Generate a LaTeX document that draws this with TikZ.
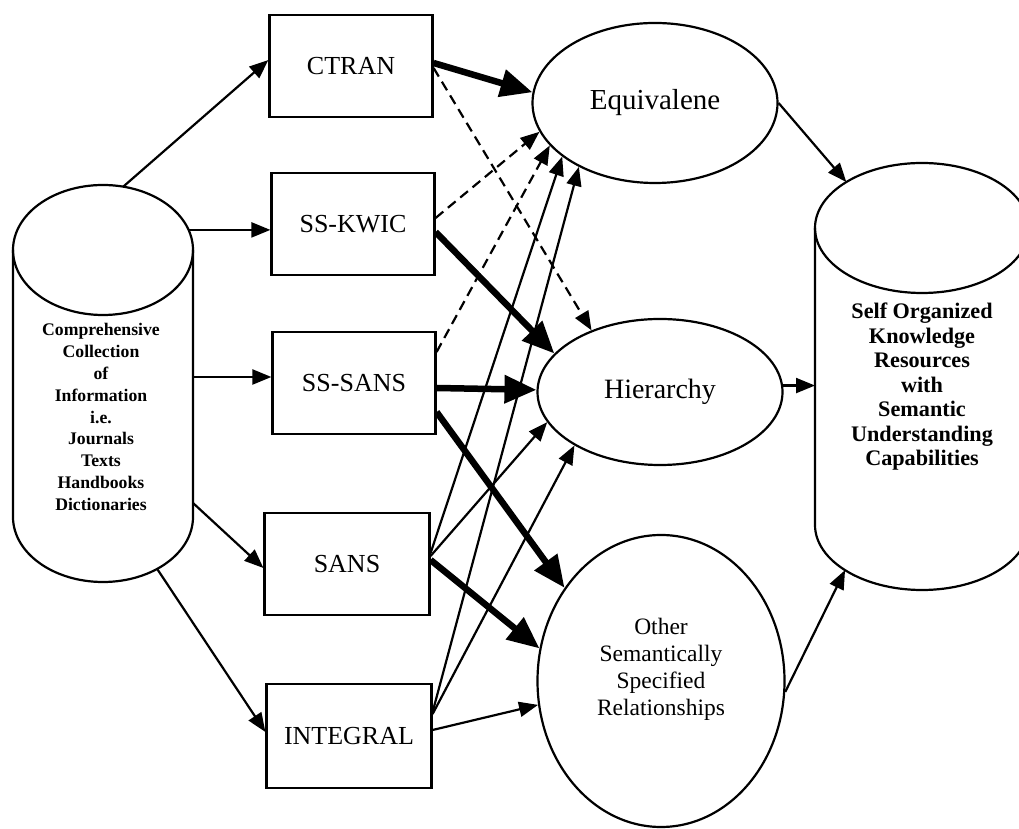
\documentclass[tikz,border=0pt]{standalone}
\usepackage{fontspec}
\setmainfont{Liberation Serif}
\usetikzlibrary{shapes.geometric,arrows.meta,calc}
\begin{document}
\begin{tikzpicture}[x=1pt,y=1pt,
  shapeline/.style={line width=2.2pt},
  boxnode/.style={draw,shapeline,minimum width=163pt,minimum height=102pt,inner sep=0pt,font=\fontsize{26}{30}\selectfont},
  ellnode/.style={draw,ellipse,shapeline,inner sep=0pt},
  thinarrow/.style={line width=2.2pt,-{Triangle[length=19pt,width=15pt]}},
  thickarrow/.style={line width=6.5pt,-{Triangle[length=32pt,width=27pt]}},
  dasharrow/.style={line width=2.2pt,dash pattern=on 10pt off 6pt,-{Triangle[length=19pt,width=15pt]}},
]
\useasboundingbox (0,0) rectangle (1019,829);

% boxes
\node[boxnode] (ctran) at (351,763) {CTRAN};
\node[boxnode] (sskwic) at (353,605) {SS-KWIC};
\node[boxnode] (sssans) at (354,446) {SS-SANS};
\node[boxnode,minimum width=165pt] (sans) at (347,265) {SANS};
\node[boxnode,minimum width=165pt,minimum height=104pt] (integral) at (349,93) {INTEGRAL};

% ellipses
\node[ellnode,minimum width=245pt,minimum height=160pt,font=\fontsize{29}{32}\selectfont] (equiv) at (655,726) {Equivalene};
\node[ellnode,minimum width=245pt,minimum height=146pt,font=\fontsize{28}{32}\selectfont] (hier) at (660,437) {Hierarchy};
\node[ellnode,minimum width=247pt,minimum height=292pt] (other) at (661,148) {};
\node[align=center,font=\fontsize{23.5}{27}\selectfont] (othertext) at ([yshift=12pt]other.center) {Other\\Semantically\\Specified\\Relationships};

% left cylinder
\draw[shapeline] (13,579) -- (13,312) arc[start angle=180,end angle=360,x radius=90,y radius=65] -- (193,579);
\draw[shapeline] (103,579) ellipse [x radius=90, y radius=65];
\node[align=center,font=\bfseries\fontsize{17.7}{21.9}\selectfont] (lc) at (101,412) {Comprehensive\\Collection\\of\\Information\\i.e.\\Journals\\Texts\\Handbooks\\Dictionaries};

% right cylinder
\draw[shapeline] (815,601) -- (815,304) arc[start angle=180,end angle=360,x radius=107,y radius=65] -- (1029,601);
\draw[shapeline] (922,601) ellipse [x radius=107, y radius=65];
\node[align=center,font=\bfseries\fontsize{22.2}{24.5}\selectfont] (rc) at (922,442) {Self Organized\\Knowledge\\Resources\\with\\Semantic\\Understanding\\Capabilities};

% cylinder connection points
\coordinate (lc1) at ($(103,579)+(77:90pt and 65pt)$);
\coordinate (lc2) at ($(103,579)+(18:90pt and 65pt)$);
\coordinate (lc3) at (193,452);
\coordinate (lc4) at (193,326);
\coordinate (lc5) at ($(103,312)+(-53:90pt and 65pt)$);
\coordinate (rc1) at ($(922,601)+(135:107pt and 65pt)$);
\coordinate (rcw) at (815,304);
\coordinate (rc3) at ($(922,304)+(224:107pt and 65pt)$);

% source to methods
\draw[thinarrow] (lc1) -- ([yshift=6pt]ctran.west);
\draw[thinarrow] (lc2) -- (lc2 -| sskwic.west);
\draw[thinarrow] (lc3) -- (lc3 -| sssans.west);
\draw[thinarrow] (lc4) -- ([yshift=-4pt]sans.west);
\draw[thinarrow] (lc5) -- ([yshift=4pt]integral.west);

% methods to relationships
\draw[thickarrow] ([yshift=3pt]ctran.east) -- (equiv.175);
\draw[dasharrow] ([yshift=-2pt]ctran.east) -- (hier.138);
\draw[dasharrow] ([yshift=6pt]sskwic.east) -- (equiv.194);
\draw[thickarrow] ([yshift=-8pt]sskwic.east) -- (hier.160);
\draw[dasharrow] ([yshift=31pt]sssans.east) -- (equiv.202);
\draw[thickarrow] ([yshift=-5pt]sssans.east) -- (hier.179);
\draw[thickarrow] ([yshift=-29pt]sssans.east) -- (other.136);
\draw[thinarrow] ([yshift=11pt]sans.east) -- (equiv.210);
\draw[thinarrow] ([yshift=8pt]sans.east) -- (hier.195);
\draw[thickarrow] ([yshift=4pt]sans.east) -- (other.165);
\draw[thinarrow] ([yshift=24pt]integral.east) -- (equiv.220);
\draw[thinarrow] ([yshift=22pt]integral.east) -- (hier.212);
\draw[thinarrow] ([yshift=6pt]integral.east) -- (other.191);

% relationships to result
\draw[thinarrow] (equiv.east) -- (rc1);
\draw[thinarrow] (hier.3) -- (hier.3 -| rcw);
\draw[thinarrow] (other.355) -- (rc3);
\end{tikzpicture}
\end{document}
